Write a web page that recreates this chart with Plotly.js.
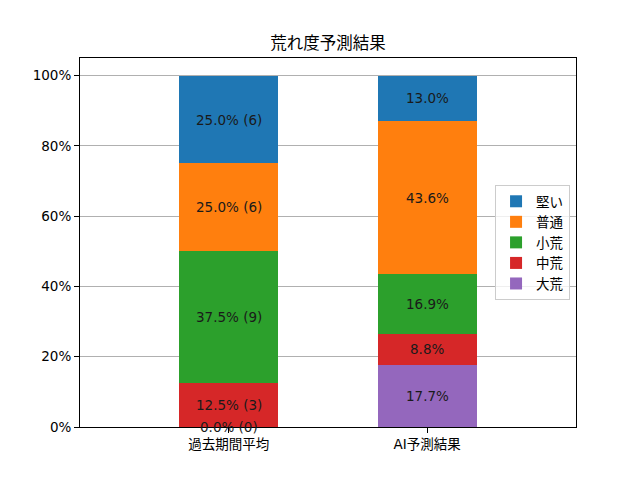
<!DOCTYPE html>
<html>
<head>
<meta charset="utf-8">
<script src="https://cdn.plot.ly/plotly-3.0.1.min.js"></script>
<style>body{margin:0}</style>
</head>
<body>
<div id="myDiv" style="width:640px;height:480px"></div>
<script>
// categories and series (bottom of stack first)
var categories = ['過去期間平均', 'AI予測結果']
var seriesNames = ['大荒', '中荒', '小荒', '普通', '堅い']
var seriesColors = ['#9467bd', '#d62728', '#2ca02c', '#ff7f0e', '#1f77b4']
// percent share per series, [past, AI]
var share大荒 = [0.0, 17.7]
var share中荒 = [12.5, 8.8]
var share小荒 = [37.5, 16.9]
var share普通 = [25.0, 43.6]
var share堅い = [25.0, 13.0]
// race counts for the past average bar
var pastCounts = [0, 3, 9, 6, 6]

var shares = [share大荒, share中荒, share小荒, share普通, share堅い]
var font = 'DejaVu Sans, Noto Sans CJK JP, sans-serif'

var data = []
var annotations = []
var bases = [0, 0]
for (var s = 0; s < seriesNames.length; s++) {
  data.push({
    type: 'bar',
    name: seriesNames[s],
    x: categories,
    y: shares[s].map(function (v) { return v / 100 }),
    width: 0.5,
    marker: {color: seriesColors[s]},
    hoverinfo: 'none'
  })
  // label in the middle of each segment
  for (var c = 0; c < categories.length; c++) {
    var v = shares[s][c]
    var label = v.toFixed(1) + '%'
    if (c == 0) label += ' (' + pastCounts[s] + ')'
    annotations.push({
      x: categories[c], y: (bases[c] + v / 2) / 100,
      xref: 'x', yref: 'y', text: label, showarrow: false,
      font: {family: font, size: 13.5, color: '#1a1a1a'}
    })
    bases[c] += v
  }
}

var layout = {
  width: 640, height: 480,
  margin: {l: 80, r: 64, t: 58, b: 53},
  paper_bgcolor: 'white', plot_bgcolor: 'white',
  barmode: 'stack',
  font: {family: font, size: 13.5, color: 'black'},
  title: {text: '荒れ度予測結果', x: 0.5125, xanchor: 'center', y: 0.91, yanchor: 'middle',
          font: {family: font, size: 16.5, color: 'black'}},
  xaxis: {type: 'category', range: [-0.75, 1.75], showline: true, mirror: true,
          linecolor: 'black', linewidth: 1, ticks: 'outside', ticklen: 5, tickcolor: 'black',
          showgrid: false, tickfont: {size: 13.5}},
  yaxis: {range: [0, 1.05], dtick: 0.2, tickformat: '.0%', showline: true, mirror: true,
          linecolor: 'black', linewidth: 1, ticks: 'outside', ticklen: 5, tickcolor: 'black',
          showgrid: true, gridcolor: '#b0b0b0', gridwidth: 1, zeroline: false,
          tickfont: {size: 13.5}},
  legend: {x: 0.988, xanchor: 'right', y: 0.5, yanchor: 'middle', traceorder: 'reversed',
           bgcolor: 'rgba(255,255,255,0.8)', bordercolor: '#cccccc', borderwidth: 1,
           font: {size: 13.5}, itemwidth: 30},
  annotations: annotations,
  showlegend: true
}

Plotly.newPlot('myDiv', data, layout, {staticPlot: true})
</script>
</body>
</html>
